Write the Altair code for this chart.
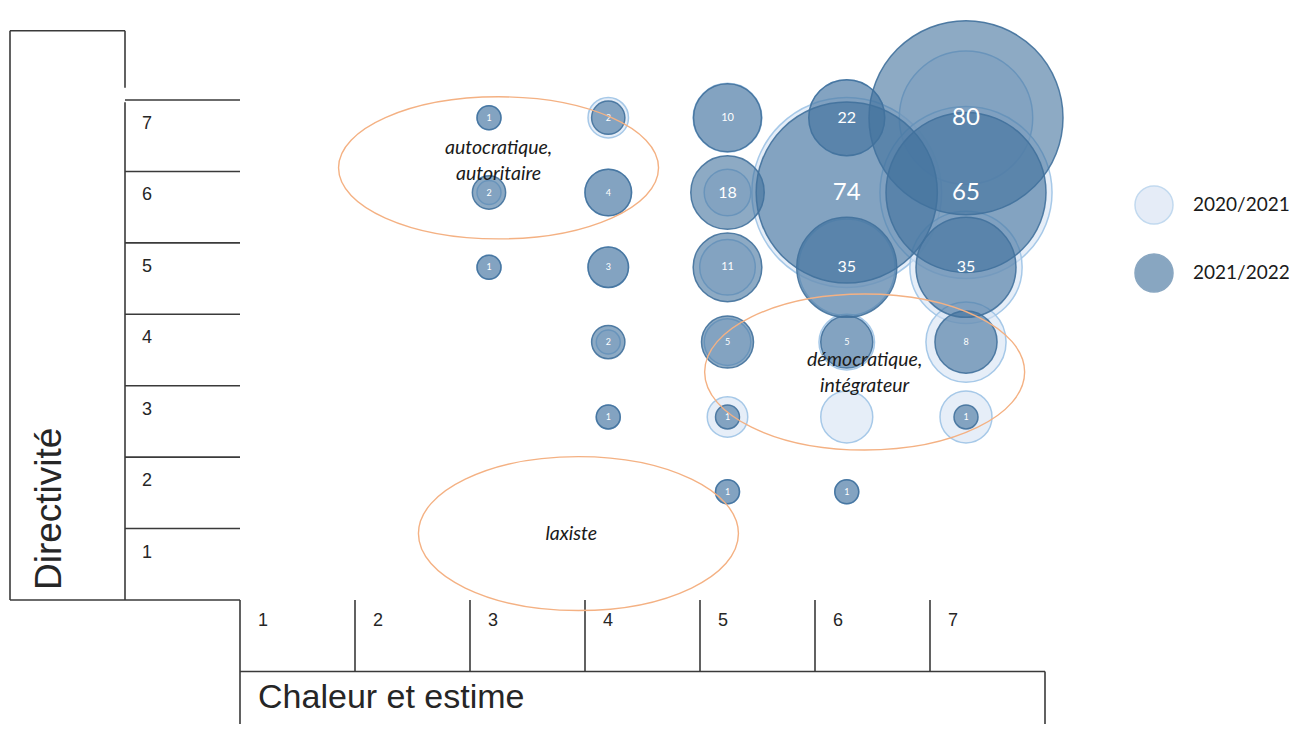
import math
import altair as alt
import pandas as pd

# ---------------- data ----------------
series_names = ["2020/2021", "2021/2022"]

# 2020/2021 (light bubbles, unlabeled)
chal_2021 = [3, 3, 3, 4, 4, 4, 4, 4, 5, 5, 5, 5, 5, 5, 6, 6, 6, 6, 6, 6, 7, 7, 7, 7, 7]
dir_2021 = [7, 6, 5, 7, 6, 5, 4, 3, 7, 6, 5, 4, 3, 2, 7, 6, 5, 4, 3, 2, 7, 6, 5, 4, 3]
val_2021 = [1, 1, 1, 3, 4, 3, 1, 1, 11, 4, 6, 4, 3, 1, 22, 78, 33, 6, 5, 1, 50, 70, 40, 24, 5]

# 2021/2022 (dark bubbles, labeled)
chal_2022 = [3, 3, 3, 4, 4, 4, 4, 4, 5, 5, 5, 5, 5, 5, 6, 6, 6, 6, 6, 7, 7, 7, 7, 7]
dir_2022 = [7, 6, 5, 7, 6, 5, 4, 3, 7, 6, 5, 4, 3, 2, 7, 6, 5, 4, 2, 7, 6, 5, 4, 3]
val_2022 = [1, 2, 1, 2, 4, 3, 2, 1, 10, 18, 11, 5, 1, 1, 22, 74, 35, 5, 1, 80, 65, 35, 8, 1]

tick_labels = ["1", "2", "3", "4", "5", "6", "7"]
x_title = "Chaleur et estime"
y_title = "Directivité"

zone_labels = ["autocratique,\nautoritaire", "démocratique,\nintégrateur", "laxiste"]
zone_chal = [3.08, 6.15, 3.75]
zone_dir = [6.33, 3.60, 1.44]
# anchor of the first text line of each zone label
zone_label_chal = [3.08, 6.15, 3.69]
zone_label_dir = [6.595, 3.76, 1.44]

# ---------------- layout / styling ----------------
W, H = 1281, 716      # view size; view origin is at page (8, 8)
M = 8


def dom_x(v_a, px_a, v_b, px_b):
    a, b = px_a - M, px_b - M
    k = (v_b - v_a) / (b - a)
    return [v_a + (0 - a) * k, v_a + (W - a) * k]


def dom_y(v_a, py_a, v_b, py_b):
    a, b = py_a - M, py_b - M
    k = (v_b - v_a) / (b - a)
    return [v_a + (H - a) * k, v_a + (0 - a) * k]


FX = dom_x(1, 240, 8, 1045)   # frame grid units
FY = dom_y(0, 600, 7, 100)
BX = dom_x(3, 489, 7, 966)    # bubble data units
BY = dom_y(7, 117.7, 2, 491.7)


def X(field, dom):
    return alt.X(field, type="quantitative", scale=alt.Scale(domain=dom, nice=False, zero=False), axis=None)


def Y(field, dom):
    return alt.Y(field, type="quantitative", scale=alt.Scale(domain=dom, nice=False, zero=False), axis=None)


LINE = "#3a3a3a"
TXT = "#262626"

# ---------------- frame (boxes, tick lines) ----------------
ticks = [int(t) for t in tick_labels]
TOP = 7.97
seg = []
for k in ticks:
    seg.append((0, 1, k, k))
seg += [(-1, -1, 0, TOP), (-1, 0, TOP, TOP), (-1, 1, 0, 0), (0, 0, TOP, 7.17), (0, 0, 6.97, 0)]
seg += [(1, 1, 0, -2), (1, 8, -1, -1), (8, 8, -1, -2)]
for k in ticks[1:]:
    seg.append((k, k, 0, -1))
seg_df = pd.DataFrame(seg, columns=["x", "x2", "y", "y2"])

rules = alt.Chart(seg_df).mark_rule(color=LINE, strokeWidth=1.6).encode(
    x=X("x", FX), x2="x2", y=Y("y", FY), y2="y2"
)

ylab_df = pd.DataFrame({"t": tick_labels, "x": [0.148] * 7, "y": [k - 0.336 for k in ticks]})
xlab_df = pd.DataFrame({"t": tick_labels, "x": [k + 0.157 for k in ticks], "y": [-0.294] * 7})
ylabels = alt.Chart(ylab_df).mark_text(font="Liberation Sans", fontSize=18, color=TXT, align="left", baseline="middle").encode(
    x=X("x", FX), y=Y("y", FY), text="t:N")
xlabels = alt.Chart(xlab_df).mark_text(font="Liberation Sans", fontSize=18, color=TXT, align="left", baseline="middle").encode(
    x=X("x", FX), y=Y("y", FY), text="t:N")

xt_df = pd.DataFrame({"t": [x_title], "x": [1.157], "y": [-1.372]})
yt_df = pd.DataFrame({"t": [y_title], "x": [-0.648], "y": [0.14]})
xtitle = alt.Chart(xt_df).mark_text(font="Liberation Sans", fontSize=34, color=TXT, align="left", baseline="middle").encode(
    x=X("x", FX), y=Y("y", FY), text="t:N")
ytitle = alt.Chart(yt_df).mark_text(font="Liberation Sans", fontSize=37, color=TXT, align="left", baseline="middle", angle=270).encode(
    x=X("x", FX), y=Y("y", FY), text="t:N")

# ---------------- bubbles ----------------
bub = pd.concat([
    pd.DataFrame({"chal": chal_2021, "dir": dir_2021, "val": val_2021, "series": series_names[0]}),
    pd.DataFrame({"chal": chal_2022, "dir": dir_2022, "val": val_2022, "series": series_names[1]}),
], ignore_index=True)

# Vega symbol size = (diameter)^2 for circles
SIZE_KNOTS = [1, 5, 10, 22, 35, 65, 80]
RADII = [12, 26, 34, 38, 50, 80, 97]
size_scale = alt.Scale(type="linear", domain=SIZE_KNOTS, range=[(2 * r) ** 2 for r in RADII])

leg = alt.Legend(title=None, orient="none", legendX=1126, legendY=177, symbolSize=38 ** 2, symbolType="circle",
                 symbolStrokeWidth=1.5, symbolOpacity=0.62, labelFont="Lato", labelFontSize=19, labelColor="#1a1a1a",
                 labelOffset=19, rowPadding=24, padding=0)

circles = alt.Chart(bub).mark_circle(opacity=1, fillOpacity=0.6, strokeWidth=1.5, strokeOpacity=0.9).encode(
    x=X("chal", BX), y=Y("dir", BY),
    size=alt.Size("val:Q", scale=size_scale, legend=None),
    fill=alt.Fill("series:N", scale=alt.Scale(domain=series_names, range=["#d6e2f3", "#41719c"]), legend=leg),
    stroke=alt.Stroke("series:N", scale=alt.Scale(domain=series_names, range=["#9dc3e6", "#41719c"]), legend=leg),
)

labels = alt.Chart(bub[bub["series"] == series_names[1]]).mark_text(
    font="Lato", color="white", align="center", baseline="middle"
).encode(
    x=X("chal", BX), y=Y("dir", BY), text="val:Q",
    size=alt.Size("val:Q", scale=alt.Scale(type="threshold", domain=[10, 18, 60], range=[9, 11, 16, 24]), legend=None),
)

# ---------------- zones (ellipses + labels) ----------------
ELLIPSE_RATIO = [0.444, 0.4875, 0.481]
ELLIPSE_RX = 160


def ellipse_path(b):
    k = 0.5523
    return (f"M -1 0 C -1 {-k*b:.4f} {-k:.4f} {-b:.4f} 0 {-b:.4f} "
            f"C {k:.4f} {-b:.4f} 1 {-k*b:.4f} 1 0 "
            f"C 1 {k*b:.4f} {k:.4f} {b:.4f} 0 {b:.4f} "
            f"C {-k:.4f} {b:.4f} -1 {k*b:.4f} -1 0 Z")


zone_df = pd.DataFrame({"chal": zone_chal, "dir": zone_dir, "path": [ellipse_path(b) for b in ELLIPSE_RATIO]})
ellipses = alt.Chart(zone_df).mark_point(filled=False, opacity=1, color="#f4b183", strokeWidth=1.4).encode(
    x=X("chal", BX), y=Y("dir", BY),
    shape=alt.Shape("path:N", scale=None),
    size=alt.value((2 * ELLIPSE_RX) ** 2),
)

zlab_df = pd.DataFrame({"t": zone_labels, "chal": zone_label_chal, "dir": zone_label_dir})
zlabels = alt.Chart(zlab_df).mark_text(
    font="Lato", fontStyle="italic", fontSize=19.5, color="#1a1a1a", lineBreak="\n", lineHeight=26,
    align="center", baseline="middle"
).encode(x=X("chal", BX), y=Y("dir", BY), text="t:N")

chart = alt.layer(
    rules, ylabels, xlabels, xtitle, ytitle, circles, labels, ellipses, zlabels
).resolve_scale(
    x="independent", y="independent", size="independent"
).properties(
    width=W, height=H, padding=0, autosize=alt.AutoSizeParams(type="none")
).configure_view(stroke=None)

chart.save("out.html", embed_options={"renderer": "svg", "actions": False})
